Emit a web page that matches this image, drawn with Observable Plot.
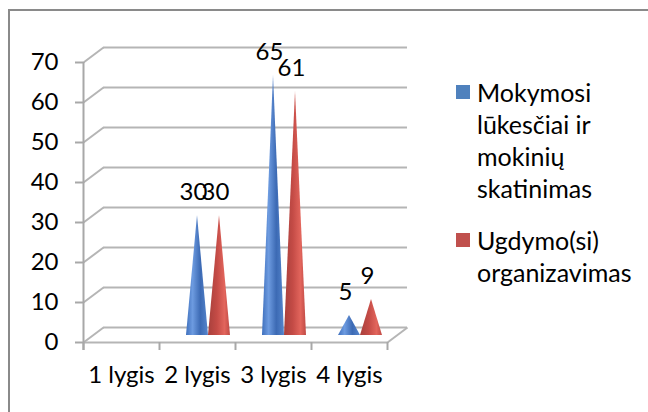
<!DOCTYPE html>
<html><head><meta charset="utf-8">
<script src="https://cdn.jsdelivr.net/npm/d3@7"></script>
<script src="https://cdn.jsdelivr.net/npm/@observablehq/plot@0.6"></script>
<style>
body{margin:0;overflow:hidden;background:#fff;font-family:Lato,sans-serif}
#wrap{position:relative;width:648px;height:412px;overflow:hidden}
#border{position:absolute;left:8px;top:9px;width:700px;height:500px;border-left:2px solid #8a8a8a;border-top:2px solid #8a8a8a;box-sizing:border-box}
#chart{position:absolute;left:0;top:0}
#legend{position:absolute;left:456px;top:76px;font-size:25px;line-height:32px;color:#000}
.item{display:flex;align-items:flex-start}
.item+.item{margin-top:20px}
.sw{width:14px;height:14px;margin-right:7px;margin-top:9px;flex:none}
.lab{width:180px}
</style></head>
<body>
<div id="wrap"><div id="border"></div><div id="chart"></div><div id="legend"></div></div>
<script>
const categories = ["1 lygis", "2 lygis", "3 lygis", "4 lygis"];
const seriesNames = ["Mokymosi lūkesčiai ir mokinių skatinimas", "Ugdymo(si) organizavimas"];
const mokymosi = [null, 30, 65, 5];
const ugdymo = [null, 30, 61, 9];
const yTicks = [0, 10, 20, 30, 40, 50, 60, 70];
const seriesColors = ["#4F81BD", "#C0504D"];

const series = [mokymosi, ugdymo];
const W = 648, H = 412;
const plotLeft = 83, plotRight = 387, plotTop = 62, plotBottom = 342;
const pxX = 4 / (plotRight - plotLeft), pxY = 70 / (plotBottom - plotTop);
const depthX = 20 * pxX, depthY = 15 * pxY;
const seriesOffset = [0, 22 * pxX];
const halfW = 11 * pxX;

const cones = [];
const labels = [];
series.forEach((vals, s) => {
  vals.forEach((v, i) => {
    if (v == null) return;
    const c = i + 0.5 + seriesOffset[s];
    const key = s + "-" + i;
    cones.push({s, key, x: c - halfW, y: 0});
    cones.push({s, key, x: c, y: v});
    cones.push({s, key, x: c + halfW, y: 0});
    labels.push({s, x: c, y: v, text: String(v)});
  });
});

const defs = () => {
  const ns = "http://www.w3.org/2000/svg";
  const d = document.createElementNS(ns, "defs");
  d.innerHTML = `
  <linearGradient id="gBlue" x1="0" x2="1" y1="0" y2="0">
    <stop offset="0%" stop-color="#3f70bd"/>
    <stop offset="30%" stop-color="#6d9be0"/>
    <stop offset="65%" stop-color="#3c6ab4"/>
    <stop offset="100%" stop-color="#5585cc"/>
  </linearGradient>
  <linearGradient id="gRed" x1="0" x2="1" y1="0" y2="0">
    <stop offset="0%" stop-color="#a8403c"/>
    <stop offset="40%" stop-color="#c44b46"/>
    <stop offset="75%" stop-color="#e2655c"/>
    <stop offset="100%" stop-color="#c04a45"/>
  </linearGradient>`;
  return d;
};
const fills = ["url(#gBlue)", "url(#gRed)"];
const grid = "#b5b5b5";
const fs = 24;

const chart = Plot.plot({
  width: W, height: H,
  marginLeft: plotLeft, marginRight: W - plotRight, marginTop: plotTop, marginBottom: H - plotBottom,
  x: {domain: [0, 4], axis: null},
  y: {domain: [0, 70], axis: null},
  style: {fontFamily: "Lato, sans-serif", background: "transparent", overflow: "visible"},
  marks: [
    defs,
    Plot.ruleY(yTicks, {dx: 20, dy: -15, stroke: grid, strokeWidth: 2}),
    Plot.link(yTicks, {x1: () => 0, y1: d => d, x2: () => depthX, y2: d => d + depthY, stroke: grid, strokeWidth: 2}),
    Plot.link([4], {x1: d => d, y1: () => 0, x2: d => d + depthX, y2: () => depthY, stroke: grid, strokeWidth: 2}),
    Plot.ruleY([0], {stroke: grid, strokeWidth: 2}),
    Plot.ruleX([0], {y1: -2, y2: 70, stroke: "#a8a8a8", strokeWidth: 2}),
    Plot.axisY({ticks: yTicks, label: null, tickSize: 8, tickPadding: 17, fontSize: fs, stroke: "#a8a8a8", strokeWidth: 2, fill: "#000"}),
    Plot.axisX({ticks: [0, 1, 2, 3, 4], label: null, tickSize: 8, tickFormat: () => "", stroke: "#a8a8a8", strokeWidth: 2}),
    Plot.axisX({ticks: [0.5, 1.5, 2.5, 3.5], label: null, tickSize: 0, tickPadding: 23, fontSize: fs, fill: "#000", tickFormat: v => categories[Math.floor(v)]}),
    ...series.map((_, s) => Plot.areaY(cones.filter(d => d.s === s), {x: "x", y: "y", z: "key", fill: fills[s], dy: -7, curve: "linear"})),
    Plot.text(labels, {x: "x", y: "y", text: "text", dy: -30, dx: -4, fontSize: fs, fill: "#000"})
  ]
});
document.getElementById("chart").append(chart);

const legend = document.getElementById("legend");
seriesNames.forEach((name, s) => {
  const item = document.createElement("div");
  item.className = "item";
  const sw = document.createElement("div");
  sw.className = "sw";
  sw.style.background = seriesColors[s];
  const lab = document.createElement("div");
  lab.className = "lab";
  lab.textContent = name;
  item.append(sw, lab);
  legend.append(item);
});
</script>
</body></html>
